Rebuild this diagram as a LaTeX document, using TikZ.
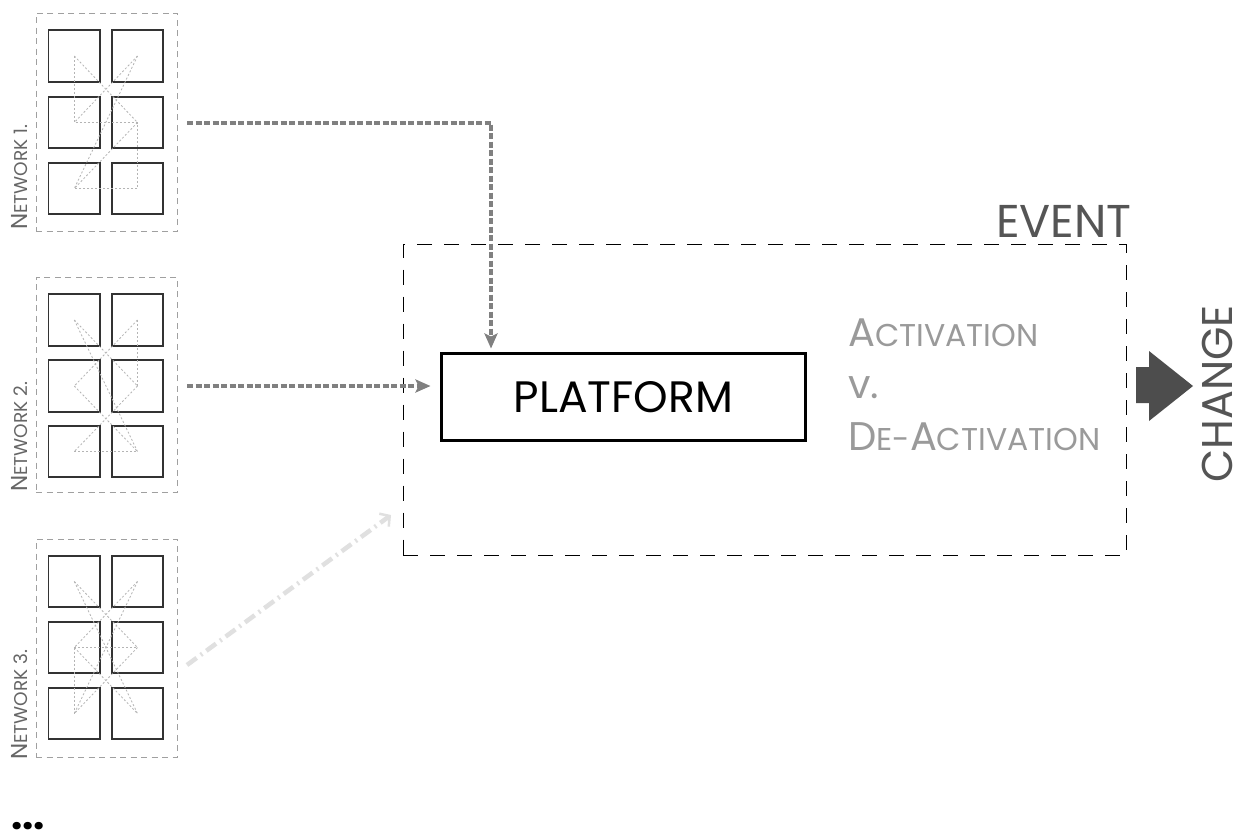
\documentclass[tikz,border=0pt]{standalone}
\usepackage{fontspec}
\setmainfont{Poppins}
\usetikzlibrary{arrows.meta}
\definecolor{arrgray}{HTML}{808080}
\definecolor{boxgray}{HTML}{A0A0A0}
\definecolor{innergray}{HTML}{B4B4B4}
\definecolor{sqcol}{HTML}{333333}
\definecolor{labgray}{HTML}{666666}
\definecolor{actgray}{HTML}{9A9A9A}
\definecolor{darkgray5}{HTML}{555555}
\definecolor{chgcol}{HTML}{4D4D4D}
\definecolor{lightarr}{HTML}{E0E0E0}
\tikzset{
  sq/.style={draw=sqcol, line width=1.6pt, minimum width=51.5pt, minimum height=51.5pt, inner sep=0pt, outer sep=0pt},
  netbox/.style={draw=boxgray, line width=0.9pt, dash pattern=on 6pt off 4.5pt, inner sep=0pt, outer sep=0pt},
  innerln/.style={draw=innergray, line width=0.8pt, dash pattern=on 2pt off 2pt},
  netlabel/.style={text=labgray, rotate=90, anchor=base west, inner sep=0pt},
  flowarr/.style={draw=arrgray, line width=4pt, dash pattern=on 6pt off 2.5pt, -{Stealth[length=15pt,width=13pt,inset=3pt]}},
  lightflow/.style={draw=lightarr, line width=4.5pt, dash pattern=on 12pt off 5pt on 2pt off 5pt, -{Straight Barb[length=7pt,width=16pt,line width=2.5pt]}},
  eventbox/.style={draw=black, line width=1pt, dash pattern=on 15pt off 12pt, inner sep=0pt, outer sep=0pt},
  platbox/.style={draw=black, line width=3pt, minimum width=364pt, minimum height=87pt, inner sep=0pt, outer sep=0pt},
}
\begin{document}
\begin{tikzpicture}[x=1pt,y=-1pt]
\useasboundingbox (0,0) rectangle (1239,831);
\fill[white] (0,0) rectangle (1239,831);

% network frames
\node[netbox, minimum width=141pt, minimum height=218pt] (net1) at (106.5,122) {};
\node[netbox, minimum width=141pt, minimum height=215pt] (net2) at (106.5,384.5) {};
\node[netbox, minimum width=141pt, minimum height=218pt] (net3) at (106.5,648) {};

% squares
\foreach \n/\ya/\yb/\yc in {1/56/122.5/188.5, 2/320/386/451.5, 3/581.5/647.5/713.5}{
  \node[sq] (n\n-TL) at (74.3,\ya) {};
  \node[sq] (n\n-TR) at (137.5,\ya) {};
  \node[sq] (n\n-ML) at (74.3,\yb) {};
  \node[sq] (n\n-MR) at (137.5,\yb) {};
  \node[sq] (n\n-BL) at (74.3,\yc) {};
  \node[sq] (n\n-BR) at (137.5,\yc) {};
}

% inner connections network 1
\draw[innerln] (n1-TL.center) -- (n1-ML.center) -- (n1-MR.center) -- (n1-BR.center) -- (n1-BL.center);
\draw[innerln] (n1-TL.center) -- (n1-MR.center);
\draw[innerln] (n1-TR.center) -- (n1-ML.center);
\draw[innerln] (n1-TR.center) -- (n1-BL.center);
\draw[innerln] (n1-MR.center) -- (n1-BL.center);
% network 2
\draw[innerln] (n2-TL.center) -- (n2-MR.center);
\draw[innerln] (n2-TR.center) -- (n2-ML.center);
\draw[innerln] (n2-TR.center) -- (n2-MR.center);
\draw[innerln] (n2-ML.center) -- (n2-BR.center);
\draw[innerln] (n2-MR.center) -- (n2-BL.center);
\draw[innerln] (n2-BL.center) -- (n2-BR.center);
\draw[innerln] (n2-TL.center) -- (n2-BR.center);
% network 3
\draw[innerln] (n3-TL.center) -- (n3-MR.center);
\draw[innerln] (n3-TR.center) -- (n3-ML.center);
\draw[innerln] (n3-ML.center) -- (n3-MR.center);
\draw[innerln] (n3-ML.center) -- (n3-BL.center);
\draw[innerln] (n3-ML.center) -- (n3-BR.center);
\draw[innerln] (n3-MR.center) -- (n3-BL.center);
\draw[innerln] (n3-TL.center) -- (n3-BR.center);
\draw[innerln] (n3-TR.center) -- (n3-BL.center);

% network labels
\node[netlabel] (lab1) at (27.5,230) {\fontsize{23}{23}\selectfont N\fontsize{18.5}{18.5}\selectfont ETWORK 1.};
\node[netlabel] (lab2) at (27.5,492) {\fontsize{23}{23}\selectfont N\fontsize{18.5}{18.5}\selectfont ETWORK 2.};
\node[netlabel] (lab3) at (27.5,760) {\fontsize{23}{23}\selectfont N\fontsize{18.5}{18.5}\selectfont ETWORK 3.};

% event box and platform
\node[eventbox, minimum width=723pt, minimum height=311pt] (event) at (764.5,400) {};
\node[text=darkgray5, anchor=base east, inner sep=0pt] (eventlbl) at (1132,237) {\fontsize{46}{46}\selectfont EVENT};
\node[platbox] (platform) at (623.5,397) {\fontsize{44}{44}\selectfont PLATFORM};

% activation text
\node[text=actgray, anchor=base west, inner sep=0pt] (act1) at (848,346) {\fontsize{40}{40}\selectfont A\fontsize{31.5}{31.5}\selectfont CTIVATION};
\node[text=actgray, anchor=base west, inner sep=0pt] (act2) at (848,398) {\fontsize{40}{40}\selectfont v.};
\node[text=actgray, anchor=base west, inner sep=0pt] (act3) at (848,450) {\fontsize{40}{40}\selectfont D\fontsize{31.5}{31.5}\selectfont E-\fontsize{40}{40}\selectfont A\fontsize{31.5}{31.5}\selectfont CTIVATION};

% change arrow and label
\fill[chgcol] (1136,367) -- (1149,367) -- (1149,351) -- (1193,386) -- (1149,421) -- (1149,403) -- (1136,403) -- cycle;
\node[text=darkgray5, rotate=90, anchor=base west, inner sep=0pt] (change) at (1232.5,483) {\fontsize{43}{43}\selectfont CHANGE};

% flow arrows
\coordinate (a1s) at (187,122.5);
\coordinate (a2s) at (187,386);
\coordinate (a3s) at (187,665);
\coordinate (a3e) at (391,515);
\draw[flowarr, shorten >=5pt] (a1s) -| ([xshift=49.5pt]platform.north west);
\draw[flowarr, shorten >=11pt] (a2s) -- (a2s -| platform.west);
\draw[lightflow] (a3s) -- (a3e);

% ellipsis
\node[anchor=base west, inner sep=0pt] (dots) at (11,829) {\fontsize{40}{40}\selectfont\bfseries ...};
\end{tikzpicture}
\end{document}
